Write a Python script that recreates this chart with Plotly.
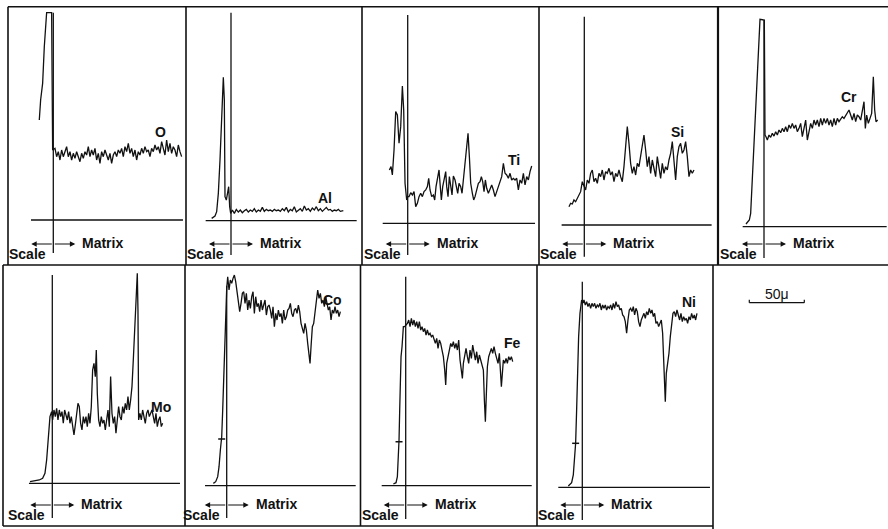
import plotly.graph_objects as go

# ---------------- data: (distance from interface, relative intensity) in arbitrary scan units ----------------
O_scan = [(-42,300),(-38,360),(-32,410),(-27,520),(-20,622),(-5,622),(-2,210),
 (5,215),(10,190),(15,205),(20,180),(25,210),(30,190),(35,205),(40,220),(45,190),(50,205),
 (55,180),(60,200),(65,185),(70,205),(75,190),(80,175),(85,200),(90,185),(95,205),(100,195),
 (105,220),(110,190),(115,210),(120,195),(125,215),(130,180),(135,200),(140,170),(145,205),(150,190),
 (155,210),(160,195),(165,180),(170,200),(175,170),(180,195),(185,205),(190,190),(195,210),(200,200),
 (205,215),(210,190),(215,220),(220,205),(225,230),(230,200),(235,215),(240,190),(245,210),(250,180),
 (255,205),(260,195),(265,215),(270,200),(275,220),(280,205),(285,210),(290,190),(295,215),(300,205),
 (305,225),(310,210),(315,220),(320,200),(325,235),(330,215),(335,195),(340,240),(345,205),(350,230),
 (355,200),(360,220),(365,210),(370,190),(375,225),(380,205),(385,190)]

Al_scan = [(-58,7),(-48,14),(-43,27),(-38,82),(-33,182),(-28,302),(-23,430),(-20,362),(-18,72),(-14,62),
 (-10,87),(-7,102),(-4,42),(-1,22),
 (4,32),(10,22),(16,34),(22,26),(28,32),(34,24),(40,30),(46,34),(52,26),(58,32),(64,28),(70,36),(76,26),
 (82,32),(88,28),(94,40),(100,28),(106,34),(112,30),(118,32),(124,28),(130,34),(136,30),(142,32),(148,28),
 (154,36),(160,30),(166,40),(172,26),(178,34),(184,30),(190,42),(196,26),(202,32),(208,36),(214,28),
 (220,44),(226,32),(232,36),(238,28),(244,38),(250,32),(256,42),(262,30),(268,36),(274,28),(280,34),
 (286,40),(292,32),(298,34),(304,28),(310,32),(316,30),(322,34),(328,28),(334,30),(337,30)]

Ti_scan = [(-55,160),(-50,170),(-46,145),(-41,220),(-36,335),(-31,325),(-26,240),(-21,290),(-16,412),
 (-12,340),(-8,120),(-3,70),(0,80),(4,80),(9,92),(14,85),(19,95),(24,50),(29,60),(34,80),(39,90),(44,80),
 (49,95),(54,100),(59,110),(63,135),(67,100),(72,80),(77,85),(81,70),(85,110),(90,145),(94,160),(97,120),
 (101,70),(105,110),(109,130),(114,155),(117,110),(121,80),(125,140),(129,110),(133,85),(137,142),
 (142,130),(146,110),(150,90),(154,120),(159,110),(163,90),(167,130),(172,170),(177,210),(181,270),
 (185,200),(189,120),(194,90),(198,70),(202,80),(207,100),(212,120),(217,125),(221,140),(225,125),
 (229,95),(233,130),(237,105),(242,90),(247,100),(252,115),(257,100),(262,80),(267,95),(272,110),
 (277,125),(282,140),(287,180),(292,150),(297,145),(302,135),(307,150),(312,130),(317,135),(322,130),
 (327,135),(332,100),(337,130),(342,120),(347,150),(352,115),(357,140),(362,130),(367,155),(372,172)]

Si_scan = [(-46,55),(-41,65),(-36,63),(-31,75),(-26,70),(-21,80),(-16,90),(-11,100),(-6,130),(-1,115),
 (4,105),(9,135),(14,125),(19,155),(24,165),(29,130),(34,140),(39,125),(44,155),(49,145),(54,165),
 (59,135),(64,160),(69,155),(74,170),(79,150),(84,160),(89,130),(94,155),(99,145),(104,165),(109,145),
 (114,130),(119,175),(124,235),(129,295),(134,245),(139,185),(144,155),(149,175),(154,150),(159,185),
 (164,175),(169,205),(174,235),(179,270),(184,225),(189,175),(194,205),(199,155),(204,195),(209,165),
 (214,145),(219,205),(224,165),(229,140),(234,185),(239,155),(244,175),(249,165),(254,195),(259,215),
 (264,250),(269,185),(274,135),(279,205),(284,235),(289,245),(294,215),(299,225),(304,250),(309,205),
 (314,145),(319,165),(324,155),(329,165)]

Cr_scan = [(-54,8),(-44,20),(-40,40),(-12,622),(1,620),(3,275),
 (6,270),(10,260),(15,275),(20,268),(25,280),(30,272),(35,285),(40,275),(45,290),(50,282),(55,295),
 (60,285),(65,300),(70,285),(75,305),(80,295),(85,310),(90,295),(95,305),(100,285),(105,295),(110,310),
 (115,270),(120,295),(125,320),(130,260),(135,290),(140,310),(145,295),(150,320),(155,305),(160,320),
 (165,300),(170,325),(175,305),(180,325),(185,310),(190,325),(195,305),(200,320),(205,300),(210,325),
 (215,305),(220,325),(225,315),(230,325),(235,330),(240,325),(245,335),(250,340),(255,350),(260,335),
 (265,320),(270,340),(275,315),(280,335),(285,330),(290,320),(295,345),(300,375),(304,295),(308,335),
 (313,310),(318,325),(323,340),(328,450),(332,350),(336,315),(341,320)]

Mo_scan = [(-67,5),(-52,7),(-39,10),(-29,15),(-22,30),(-17,70),(-12,130),(-7,200),(-2,215),(1,190),
 (5,220),(9,200),(13,225),(17,190),(21,220),(25,200),(29,215),(33,180),(37,220),(41,200),(45,190),
 (49,215),(53,180),(57,200),(61,170),(65,145),(69,175),(73,215),(77,240),(81,230),(85,180),(89,160),
 (93,200),(97,180),(101,200),(105,170),(109,210),(113,180),(117,230),(121,340),(125,360),(129,320),
 (132,400),(135,270),(139,190),(143,170),(147,200),(151,180),(155,190),(159,160),(163,200),(167,220),
 (171,170),(175,320),(179,210),(183,180),(187,200),(191,150),(195,190),(199,230),(203,200),(207,190),
 (211,230),(215,210),(219,240),(223,220),(227,260),(231,220),(235,250),(239,290),(243,370),(247,470),
 (251,550),(255,630),(257,520),(259,190),(263,210),(267,190),(271,220),(275,200),(279,180),(283,210),
 (287,220),(291,200),(295,210),(299,220),(303,200),(307,180),(311,210),(315,170),(319,190),(323,200),
 (327,170),(331,180)]

Co_scan = [(-40,7),(-33,12),(-27,27),(-23,57),(-19,107),(-15,147),(-12,227),(-9,327),(-6,427),(-3,527),
 (0,592),(3,627),(7,587),(11,617),(15,607),(19,622),(23,632),(27,612),(31,577),(35,557),(39,522),
 (43,547),(47,577),(51,582),(55,547),(59,577),(63,527),(67,557),(71,532),(75,567),(79,582),(83,517),
 (87,567),(91,537),(95,547),(99,522),(103,557),(107,527),(111,547),(115,557),(119,512),(123,537),
 (127,542),(131,527),(135,502),(139,537),(143,477),(147,517),(151,497),(155,527),(159,507),(163,517),
 (167,487),(171,527),(175,497),(179,507),(183,527),(187,532),(191,547),(195,517),(199,507),(203,527),
 (207,532),(211,517),(215,542),(219,522),(223,487),(227,467),(231,457),(235,487),(239,467),(243,427),
 (247,387),(250,367),(253,417),(257,477),(261,487),(265,517),(269,557),(273,587),(277,562),(281,577),
 (285,547),(289,557),(293,537),(297,567),(301,547),(305,527),(309,537),(313,497),(317,527),(321,517),
 (325,537),(329,517),(333,527),(337,507),(341,522)]

Fe_scan = [(-37,5),(-29,9),(-25,27),(-22,77),(-20,137),(-18,227),(-16,327),(-14,387),(-11,417),(-7,477),
 (-3,477),(1,482),(5,487),(9,497),(13,477),(17,502),(21,482),(25,497),(29,477),(33,492),(37,472),
 (41,492),(45,467),(49,477),(53,462),(57,472),(61,452),(65,467),(69,452),(73,457),(77,447),(81,452),
 (85,437),(89,427),(93,442),(97,412),(101,437),(105,427),(109,407),(113,387),(117,347),(120,302),
 (123,367),(127,387),(131,397),(135,427),(139,417),(143,432),(147,412),(151,427),(155,407),(159,437),
 (163,377),(167,347),(170,322),(173,367),(177,392),(181,412),(185,387),(189,367),(193,407),(197,382),
 (201,422),(205,392),(209,377),(213,402),(217,367),(221,392),(225,377),(229,357),(233,347),(236,257),
 (239,192),(242,277),(245,357),(249,387),(253,402),(257,412),(261,397),(265,417),(269,397),(273,377),
 (277,367),(281,397),(284,347),(287,297),(290,337),(293,377),(297,367),(301,382),(305,367),(309,387),
 (313,377),(317,387),(321,372)]

Ni_scan = [(-42,4),(-32,14),(-27,37),(-23,82),(-20,132),(-17,232),(-14,352),(-11,452),(-7,522),(-2,562),
 (1,552),(5,562),(9,547),(13,557),(17,542),(21,552),(25,537),(29,552),(33,542),(37,552),(41,537),
 (45,547),(49,542),(53,552),(57,532),(61,547),(65,537),(69,547),(73,532),(77,542),(81,537),(85,547),
 (89,532),(93,552),(97,537),(101,557),(105,542),(109,547),(113,532),(117,537),(121,517),(125,512),
 (129,497),(133,462),(137,502),(141,532),(145,537),(149,527),(153,542),(157,517),(161,537),(165,527),
 (169,497),(173,482),(177,502),(181,512),(185,522),(189,507),(193,527),(197,517),(201,537),(205,522),
 (209,532),(213,512),(217,522),(221,492),(225,497),(229,482),(233,492),(237,502),(241,462),(244,382),
 (247,302),(249,257),(252,342),(256,372),(260,402),(264,452),(268,492),(272,522),(276,527),(280,512),
 (284,532),(288,517),(292,502),(296,522),(300,497),(304,512),(308,502),(312,507),(316,492),(320,512),
 (324,502),(328,522),(332,507),(336,517),(340,502),(344,522)]

# small calibration ticks drawn across the rising edges (distance, intensity); None = no tick
CAL_TICKS = [None, None, None, None, None, None, (-15, 140), (-20, 132), (-20, 132)]

ELEMENTS = ["O", "Al", "Ti", "Si", "Cr", "Mo", "Co", "Fe", "Ni"]
SCANS = [O_scan, Al_scan, Ti_scan, Si_scan, Cr_scan, Mo_scan, Co_scan, Fe_scan, Ni_scan]
SCALE_BAR_UM = 50

# ---------------- layout (pixels of the 888x529 page) ----------------
W, H = 888, 529
U = 3.0  # scan units per pixel
PANELS = [
    dict(box=(8, 6.7, 186, 265),     I=53.3,  B=220.0, base=(-67, 389), iface=(-99, 622),  lab=(323, 264)),
    dict(box=(186, 6.7, 362, 265),   I=231.0, B=220.7, base=(-76, 377), iface=(-103, 624), lab=(282, 68)),
    dict(box=(362, 6.7, 539, 265),   I=407.7, B=223.3, base=(-75, 382), iface=(-95, 625),  lab=(319, 190)),
    dict(box=(539, 6.7, 718, 265),   I=584.3, B=225.0, base=(-68, 382), iface=(-95, 625),  lab=(281, 279)),
    dict(box=(718, 6.7, 888, 265),   I=764.0, B=226.7, base=(-64, 368), iface=(-94, 620),  lab=(255, 389)),
    dict(box=(3, 265, 185, 526),     I=52.3,  B=483.3, base=(-70, 383), iface=(-104, 625), lab=(326, 228)),
    dict(box=(185, 265, 360.5, 526), I=226.7, B=485.7, base=(-65, 387), iface=(-97, 600),  lab=(316, 557)),
    dict(box=(360.5, 265, 537, 526), I=405.7, B=485.7, base=(-72, 378), iface=(-100, 627), lab=(319, 428)),
    dict(box=(537, 265, 713, 526),   I=582.3, B=487.3, base=(-72, 383), iface=(-98, 617),  lab=(320, 556)),
]

FONT = "Liberation Sans, Arial, sans-serif"
INK = "#111111"

fig = go.Figure()
shapes, annotations, axes = [], [], {}

for k, (p, name, scan, cal) in enumerate(zip(PANELS, ELEMENTS, SCANS, CAL_TICKS)):
    n = k + 1
    xa = "x" if n == 1 else f"x{n}"
    ya = "y" if n == 1 else f"y{n}"
    L, T, R, Bt = p["box"]
    I, B = p["I"], p["B"]
    axes[f"xaxis{'' if n == 1 else n}"] = dict(domain=[L / W, R / W], range=[(L - I) * U, (R - I) * U],
                                               visible=False, anchor=ya, fixedrange=True)
    axes[f"yaxis{'' if n == 1 else n}"] = dict(domain=[1 - Bt / H, 1 - T / H], range=[(B - Bt) * U, (B - T) * U],
                                               visible=False, anchor=xa, fixedrange=True)
    d = [s[0] for s in scan]
    v = [s[1] for s in scan]
    fig.add_trace(go.Scatter(x=d, y=v, mode="lines", line=dict(color=INK, width=1.3),
                             xaxis=xa, yaxis=ya, showlegend=False, hoverinfo="skip", name=name))
    if cal is not None:
        fig.add_trace(go.Scatter(x=[cal[0]], y=[cal[1]], mode="markers", xaxis=xa, yaxis=ya,
                                 marker=dict(symbol="line-ew", size=5, line=dict(color=INK, width=1.5)),
                                 showlegend=False, hoverinfo="skip"))
    # baseline and interface line
    shapes.append(dict(type="line", xref=xa, yref=ya, x0=p["base"][0], x1=p["base"][1], y0=0, y1=0,
                       line=dict(color=INK, width=1.3)))
    shapes.append(dict(type="line", xref=xa, yref=ya, x0=0, x1=0, y0=p["iface"][0], y1=p["iface"][1],
                       line=dict(color=INK, width=1.3)))
    # element label
    annotations.append(dict(xref=xa, yref=ya, x=p["lab"][0], y=p["lab"][1], text=f"<b>{name}</b>",
                            showarrow=False, xanchor="center", yanchor="middle",
                            font=dict(family=FONT, size=14, color=INK)))
    # Scale / Matrix labels
    annotations.append(dict(xref=xa, yref="paper", x=-5 * U, y=1 - (Bt - 11) / H, xanchor="right",
                            yanchor="middle", text="<b>Scale</b>", showarrow=False,
                            font=dict(family=FONT, size=14, color=INK)))
    annotations.append(dict(xref=xa, yref="paper", x=27 * U, y=1 - (Bt - 22) / H, xanchor="left",
                            yanchor="middle", text="<b>Matrix</b>", showarrow=False,
                            font=dict(family=FONT, size=14, color=INK)))
    # double arrow
    for sgn in (-1, 1):
        annotations.append(dict(xref=xa, yref="paper", x=sgn * 22 * U, y=1 - (Bt - 21) / H,
                                ax=-sgn * 22, ay=0, axref="pixel", ayref="pixel", text="",
                                showarrow=True, arrowhead=2, arrowsize=0.9, arrowwidth=1.2,
                                arrowcolor=INK, standoff=0, startstandoff=0))

# frame lines (paper, px)
def hline(y, x0, x1, w=1.6):
    shapes.append(dict(type="line", xref="paper", yref="paper", x0=x0 / W, x1=x1 / W,
                       y0=1 - y / H, y1=1 - y / H, line=dict(color=INK, width=w)))

def vline(x, y0, y1, w=1.6):
    shapes.append(dict(type="line", xref="paper", yref="paper", x0=x / W, x1=x / W,
                       y0=1 - y0 / H, y1=1 - y1 / H, line=dict(color=INK, width=w)))

hline(6.7, 8, 888)
hline(265, 3, 888)
hline(526, 3, 713)
for x in (8, 186, 362, 539):
    vline(x, 6.7, 265)
vline(718, 6.7, 265, 2.2)
for x in (3, 185, 360.5, 537, 713):
    vline(x, 265, 529 if x == 713 else 526)

# 50 micron scale bar (55 px)
bx0, bx1, by = 749.3, 804.3, 302.7
hline(by, bx0, bx1, 1.3)
vline(bx0, by - 3, by, 1.2)
vline(bx1, by - 3, by, 1.2)
annotations.append(dict(xref="paper", yref="paper", x=(bx0 + bx1) / 2 / W, y=1 - 294 / H,
                        text=f"{SCALE_BAR_UM}μ", showarrow=False, xanchor="center", yanchor="middle",
                        font=dict(family=FONT, size=14, color=INK)))

fig.update_layout(width=W, height=H, margin=dict(l=0, r=0, t=0, b=0),
                  paper_bgcolor="white", plot_bgcolor="rgba(0,0,0,0)",
                  shapes=shapes, annotations=annotations, showlegend=False, **axes)
fig.write_html("out.html", config={"displayModeBar": False},
               post_script="document.body.style.margin='0';document.body.style.overflow='hidden';")
